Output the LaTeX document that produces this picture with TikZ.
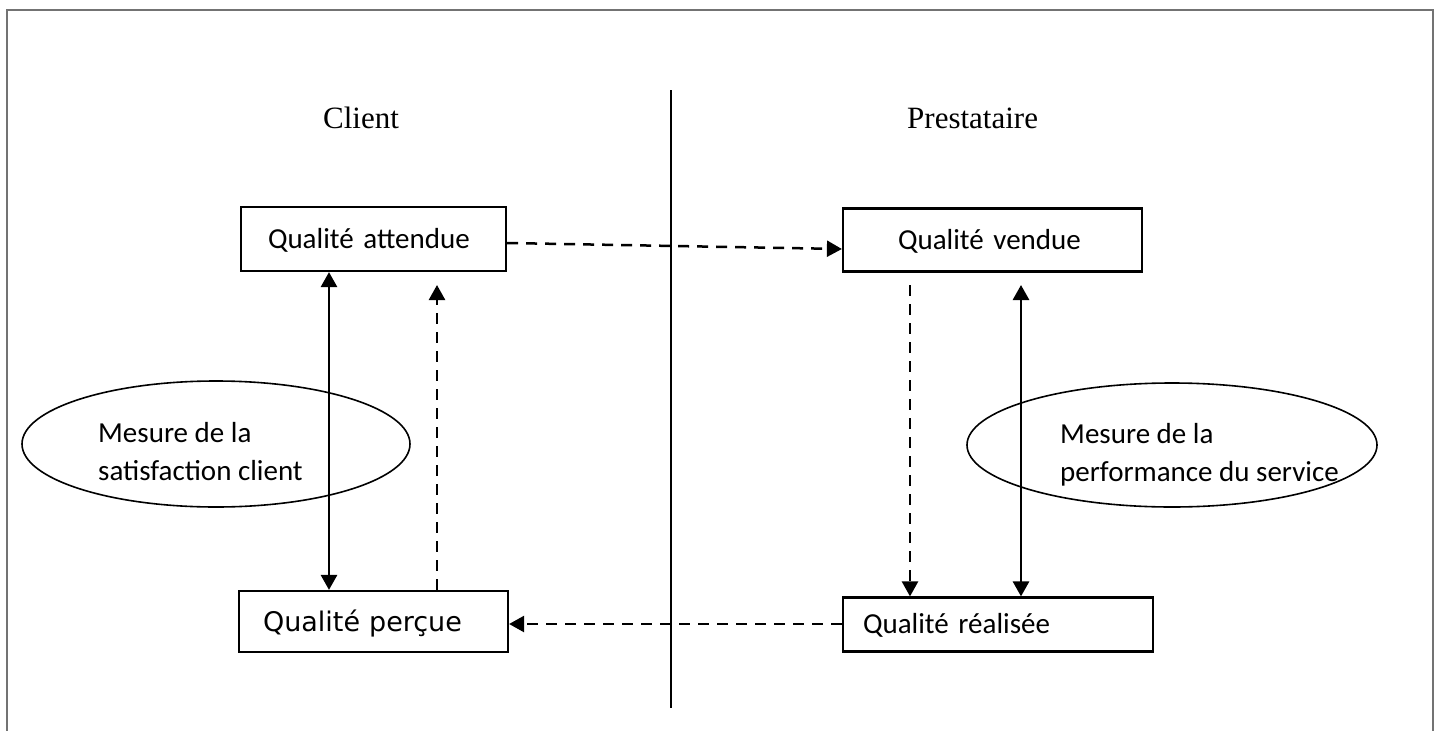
\documentclass[tikz,border=0pt]{standalone}
\usepackage{fontspec}
\setmainfont{Liberation Serif}
\newfontfamily\calibrifont{Carlito}
\newfontfamily\verdanafont{DejaVu Sans}
\usetikzlibrary{arrows.meta,shapes.geometric}
\begin{document}
\begin{tikzpicture}[x=1pt,y=-1pt,
  >={Triangle[length=15pt,width=16pt]},
  qbox/.style={draw, line width=2.2pt, rectangle, align=left, inner ysep=0pt,
    text height=18.7pt, text depth=0pt,
    font=\calibrifont\fontsize{29}{36}\selectfont},
  ovalbox/.style={draw, ellipse, line width=1.6pt, inner sep=0pt},
  ovaltext/.style={anchor=west, align=left, inner sep=0pt,
    font=\calibrifont\fontsize{29}{38}\selectfont},
  sidelabel/.style={anchor=base west, inner sep=0pt, font=\fontsize{31}{36}\selectfont},
  solidlink/.style={line width=2.8pt},
  dashlink/.style={line width=2.5pt, dash pattern=on 11pt off 8pt},
]
\useasboundingbox (0,0) rectangle (1441,731);

% outer frame (bottom edge falls outside the page)
\draw[line width=2pt, color=black!55] (7,745) -- (7,10) -- (1433,10) -- (1433,745);

% divider between client and provider sides
\draw[line width=1.8pt] (671,90) -- (671,708);

% side headings
\node[sidelabel] (client) at (323,128) {Client};
\node[sidelabel] (prest) at (907,128) {Prestataire};

% quality boxes
\node[qbox, minimum width=265pt, minimum height=64pt, text width=211pt, inner xsep=27pt]
  (qa) at (373.5,239) {Qualité attendue};
\node[qbox, minimum width=299pt, minimum height=63pt, text width=189pt, inner xsep=55pt]
  (qv) at (992.5,240) {Qualité vendue};
\node[qbox, minimum width=269pt, minimum height=61pt, text width=221pt, inner xsep=24pt,
  text height=19.6pt, font=\verdanafont\fontsize{27}{34}\selectfont]
  (qp) at (373.5,621.5) {Qualité perçue};
\node[qbox, minimum width=310pt, minimum height=54pt, text width=270pt, inner xsep=20pt]
  (qr) at (998,624.5) {Qualité réalisée};

% measurement ellipses
\node[ovalbox, minimum width=388pt, minimum height=126pt] (msat) at (216,444) {};
\node[ovaltext] (msattext) at (98,452) {Mesure de la\\satisfaction client};
\node[ovalbox, minimum width=410pt, minimum height=124pt] (mperf) at (1172,445) {};
\node[ovaltext] (mperftext) at (1060,455) {Mesure de la\\performance du service};

% connector positions
\coordinate (xA) at (329,0);
\coordinate (xB) at (437,0);
\coordinate (xC) at (910,0);
\coordinate (xD) at (1021,0);
\coordinate (yT1) at (0,243);
\coordinate (yT2) at (0,249);
\coordinate (yB) at (0,624);
\coordinate (tipB) at (437,285);
\coordinate (tipC) at (910,285);
\coordinate (tipD) at (1021,285);

% client side
\draw[solidlink, <->] (qa.south -| xA) -- (qp.north -| xA);
\draw[dashlink, ->] (qp.north -| xB) -- (tipB);

% provider side
\draw[dashlink, ->] (tipC) -- (qr.north -| xC);
\draw[solidlink, <->] (tipD) -- (qr.north -| xD);

% horizontal exchanges
\draw[dashlink, ->] (qa.east |- yT1) -- (qv.west |- yT2);
\draw[dashlink, ->] (qr.west |- yB) -- (qp.east |- yB);
\end{tikzpicture}
\end{document}
